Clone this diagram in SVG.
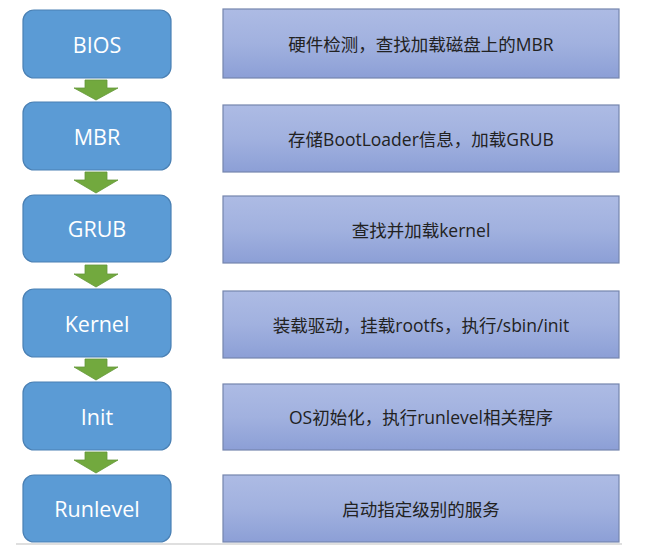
<svg xmlns="http://www.w3.org/2000/svg" width="653" height="553" viewBox="0 0 653 553">
<defs>
<linearGradient id="g" x1="0" y1="0" x2="0" y2="1">
<stop offset="0" stop-color="#adbbe4"/>
<stop offset="0.5" stop-color="#a1b1df"/>
<stop offset="1" stop-color="#8c9fd6"/>
</linearGradient>
<style>
.step{fill:#5b9bd5;stroke:#4a80b4;stroke-width:1.2}
.stxt{font-family:"Open Sans","Liberation Sans",sans-serif;font-size:21.5px;fill:#ffffff;text-anchor:middle;dominant-baseline:central}
.desc{fill:url(#g);stroke:#7585ad;stroke-width:1.2}
.dtxt{font-family:"Open Sans","Noto Sans CJK SC",sans-serif;font-size:17.5px;fill:#222222;text-anchor:middle;dominant-baseline:central}
.arr{fill:#72a93e;stroke:#64983a;stroke-width:0.8}
</style>
</defs>
<rect width="653" height="553" fill="#ffffff"/>
<line x1="16" y1="544" x2="622" y2="544" stroke="#d4d4d4" stroke-width="1.5"/>
<g id="connectors">
<polygon class="arr" points="85,80 107,80 107,88 118,88 96,100 74,88 85,88"/>
<polygon class="arr" points="85,172 107,172 107,180 118,180 96,193 74,180 85,180"/>
<polygon class="arr" points="85,265 107,265 107,274 118,274 96,287 74,274 85,274"/>
<polygon class="arr" points="85,359 107,359 107,367 118,367 96,380 74,367 85,367"/>
<polygon class="arr" points="85,452 107,452 107,460 118,460 96,473 74,460 85,460"/>
</g>
<g id="bios"><rect class="step" x="23" y="10" width="148" height="68" rx="11"/><text class="stxt" x="97" y="44">BIOS</text></g>
<g id="mbr"><rect class="step" x="23" y="102" width="148" height="68" rx="11"/><text class="stxt" x="97" y="136">MBR</text></g>
<g id="grub"><rect class="step" x="23" y="195" width="148" height="67" rx="11"/><text class="stxt" x="97" y="228.5">GRUB</text></g>
<g id="kernel"><rect class="step" x="23" y="289" width="148" height="68" rx="11"/><text class="stxt" x="97" y="323">Kernel</text></g>
<g id="init"><rect class="step" x="23" y="382" width="148" height="68" rx="11"/><text class="stxt" x="97" y="416">Init</text></g>
<g id="runlevel"><rect class="step" x="23" y="475" width="148" height="67" rx="11"/><text class="stxt" x="97" y="508.5">Runlevel</text></g>
<g id="bios-desc"><rect class="desc" x="223" y="9" width="396" height="69"/><text class="dtxt" x="421" y="44">硬件检测，查找加载磁盘上的MBR</text></g>
<g id="mbr-desc"><rect class="desc" x="223" y="105" width="396" height="67"/><text class="dtxt" x="421" y="139">存储BootLoader信息，加载GRUB</text></g>
<g id="grub-desc"><rect class="desc" x="223" y="196" width="396" height="67"/><text class="dtxt" x="421" y="230">查找并加载kernel</text></g>
<g id="kernel-desc"><rect class="desc" x="223" y="291" width="396" height="67"/><text class="dtxt" x="421" y="325">装载驱动，挂载rootfs，执行/sbin/init</text></g>
<g id="init-desc"><rect class="desc" x="223" y="384" width="396" height="66"/><text class="dtxt" x="421" y="417">OS初始化，执行runlevel相关程序</text></g>
<g id="runlevel-desc"><rect class="desc" x="223" y="475" width="396" height="67"/><text class="dtxt" x="421" y="509">启动指定级别的服务</text></g>
</svg>
